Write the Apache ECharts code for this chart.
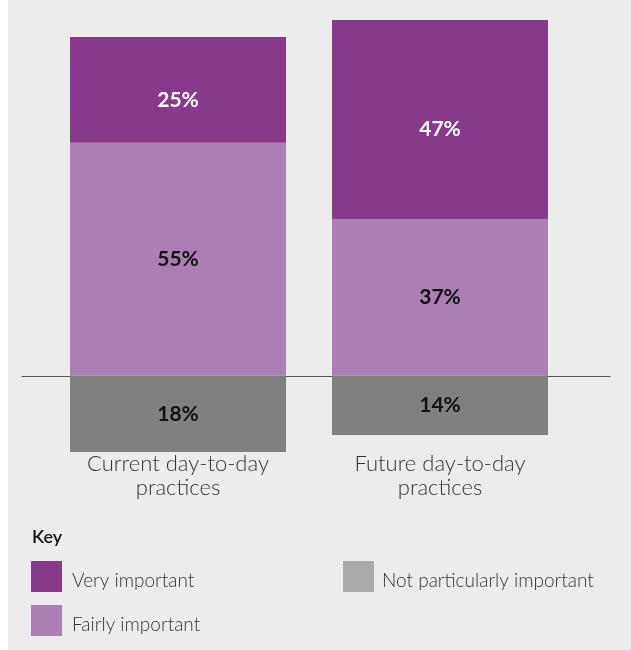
<!DOCTYPE html>
<html>
<head>
<meta charset="utf-8">
<script src="https://cdn.jsdelivr.net/npm/echarts@6/dist/echarts.min.js"></script>
<style>
  html, body { margin: 0; padding: 0; background: #ffffff; }
  #chart { position: absolute; left: 8px; top: 0; width: 623px; height: 650px; }
</style>
</head>
<body>
<div id="chart"></div>
<script>
// Share of respondents rating each practice's importance (%)
const categories = ['Current day-to-day\npractices', 'Future day-to-day\npractices'];
const veryImportant = [25, 47];
const fairlyImportant = [55, 37];
const notParticularlyImportant = [18, 14]; // drawn below the zero line

const seriesNames = ['Very important', 'Fairly important', 'Not particularly important'];

const COLORS = {
  very: '#87398c',
  fairly: '#ab7fb3',
  notBar: '#808080',
  notKey: '#aaaaaa',
  bg: '#ececec'
};
const FONT = 'Lato, "Open Sans", sans-serif';

const valueLabel = (color) => ({
  show: true,
  position: 'inside',
  color: color,
  fontFamily: FONT,
  fontWeight: 'bold',
  fontSize: 21,
  formatter: (p) => Math.abs(p.value) + '%'
});

// Key entries sit a little low against their swatches
const keyText = (leftPad) => ({
  rich: {
    k: {
      fontFamily: FONT,
      fontSize: 19,
      fontWeight: 300,
      color: '#333',
      padding: [9, 0, 0, leftPad]
    }
  }
});
const keyFormatter = (name) => '{k|' + name + '}';

const chart = echarts.init(document.getElementById('chart'), null, { renderer: 'canvas' });

chart.setOption({
  backgroundColor: COLORS.bg,
  animation: false,
  title: {
    text: 'Key',
    left: 24,
    top: 528,
    padding: 0,
    textStyle: { fontFamily: FONT, fontSize: 18, fontWeight: 600, color: '#111' }
  },
  legend: [
    {
      orient: 'vertical',
      left: 23,
      top: 561,
      padding: 0,
      itemWidth: 31,
      itemHeight: 31,
      itemGap: 13,
      selectedMode: false,
      icon: 'rect',
      data: [seriesNames[0], seriesNames[1]],
      formatter: keyFormatter,
      textStyle: keyText(5)
    },
    {
      orient: 'vertical',
      left: 335,
      top: 561,
      padding: 0,
      itemWidth: 31,
      itemHeight: 31,
      selectedMode: false,
      icon: 'rect',
      data: [{ name: seriesNames[2], itemStyle: { color: COLORS.notKey } }],
      formatter: keyFormatter,
      textStyle: keyText(3)
    }
  ],
  grid: [
    // bars
    { left: 39, top: 20, width: 524, height: 432 },
    // wide baseline at zero
    { left: 14, top: 20, width: 588, height: 432 }
  ],
  xAxis: [
    {
      type: 'category',
      gridIndex: 0,
      data: categories,
      axisLine: { show: false },
      axisTick: { show: false },
      axisLabel: {
        margin: 0,
        fontFamily: FONT,
        fontSize: 22,
        fontWeight: 300,
        lineHeight: 24,
        color: '#333'
      }
    },
    {
      type: 'category',
      gridIndex: 1,
      data: [''],
      axisLine: { show: true, onZero: true, lineStyle: { color: '#555555', width: 1 } },
      axisTick: { show: false },
      axisLabel: { show: false }
    }
  ],
  yAxis: [
    { type: 'value', gridIndex: 0, min: -18, max: 84, show: false, splitLine: { show: false } },
    { type: 'value', gridIndex: 1, min: -18, max: 84, show: false, splitLine: { show: false } }
  ],
  series: [
    {
      name: seriesNames[1],
      type: 'bar',
      stack: 'total',
      barWidth: 216,
      itemStyle: { color: COLORS.fairly },
      label: valueLabel('#111'),
      data: fairlyImportant
    },
    {
      name: seriesNames[0],
      type: 'bar',
      stack: 'total',
      barWidth: 216,
      itemStyle: { color: COLORS.very },
      label: Object.assign(valueLabel('#ffffff'), { offset: [0, 10] }),
      data: veryImportant
    },
    {
      name: seriesNames[2],
      type: 'bar',
      stack: 'total',
      barWidth: 216,
      itemStyle: { color: COLORS.notBar },
      label: valueLabel('#111'),
      data: notParticularlyImportant.map((v) => -v)
    }
  ]
});
</script>
</body>
</html>
